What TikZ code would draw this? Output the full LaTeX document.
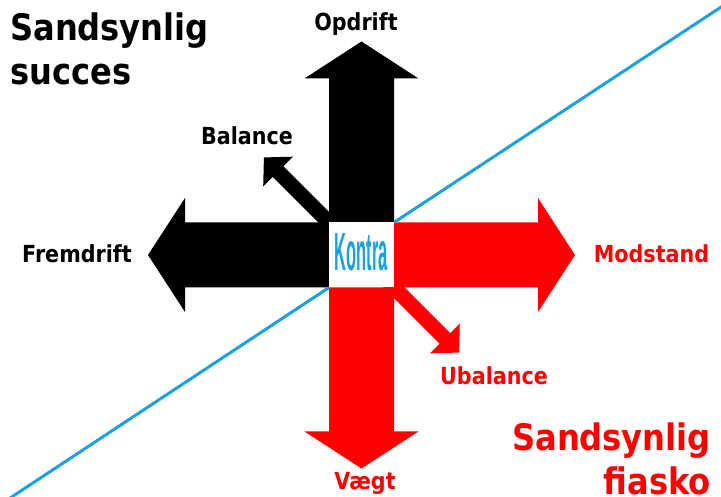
\documentclass[tikz,border=0pt]{standalone}
\usepackage{fontspec}
\setmainfont{DejaVu Sans}
\newfontfamily\lblfont[FakeStretch=0.88]{DejaVu Sans}
\newfontfamily\kontrafont{Liberation Sans}
\usetikzlibrary{positioning,calc}
\definecolor{kontrablue}{RGB}{27,161,226}
\definecolor{fiaskored}{RGB}{255,0,0}

\begin{document}
\begin{tikzpicture}[x=1pt, y=1pt,
  lbl/.style={font=\lblfont\bfseries\fontsize{23.5}{27}\selectfont, inner sep=0pt, anchor=base},
  big/.style={font=\lblfont\bfseries\fontsize{36.5}{44}\selectfont, inner sep=0pt},
  kontra/.style={fill=white, minimum size=65pt, inner sep=0pt, text=kontrablue},
  tilt/.style={kontrablue, line width=3pt},
]
\useasboundingbox (0,0) rectangle (721,497);
\coordinate (c) at (361.5,242);

\foreach \ang/\col in {135/black, -45/fiaskored}
  \fill[\col, shift={(c)}, rotate=\ang] (0,-7.5) -- (118,-7.5) -- (118,-21) -- (138,0) -- (118,21) -- (118,7.5) -- (0,7.5) -- cycle;

\foreach \ang/\col in {0/fiaskored, 90/black, 180/black, 270/fiaskored}
  \fill[\col, shift={(c)}, rotate=\ang] (32.5,-32.5) -- (176.5,-32.5) -- (176.5,-57) -- (213.5,0) -- (176.5,57) -- (176.5,32.5) -- (32.5,32.5) -- cycle;

\node[kontra] (kontra) at (c) {\raisebox{6pt}{\resizebox{53pt}{37pt}{\kontrafont\bfseries Kontra}}};

\coordinate (ll) at ($(kontra.south west)+(-322,-212.5)$);
\coordinate (ur) at ($(kontra.north east)+(328,216)$);
\draw[tilt] (kontra.south west) -- (ll);
\draw[tilt] (kontra.north east) -- (ur);

\node[lbl] (opdrift) at (356,466) {Opdrift};
\node[lbl] (balance) at (247,352) {Balance};
\node[lbl] (fremdrift) at (77,234) {Fremdrift};
\node[lbl, text=fiaskored] (modstand) at (651.5,234) {Modstand};
\node[lbl, text=fiaskored] (ubalance) at (494,112) {Ubalance};
\node[lbl, text=fiaskored] (vaegt) at (365,7) {Vægt};

\node[big, align=left, anchor=base west] (succes) at (10,412) {Sandsynlig\\succes};
\node[big, align=right, anchor=base east, text=fiaskored] (fiasko) at (711,2) {Sandsynlig\\fiasko};

\end{tikzpicture}
\end{document}
